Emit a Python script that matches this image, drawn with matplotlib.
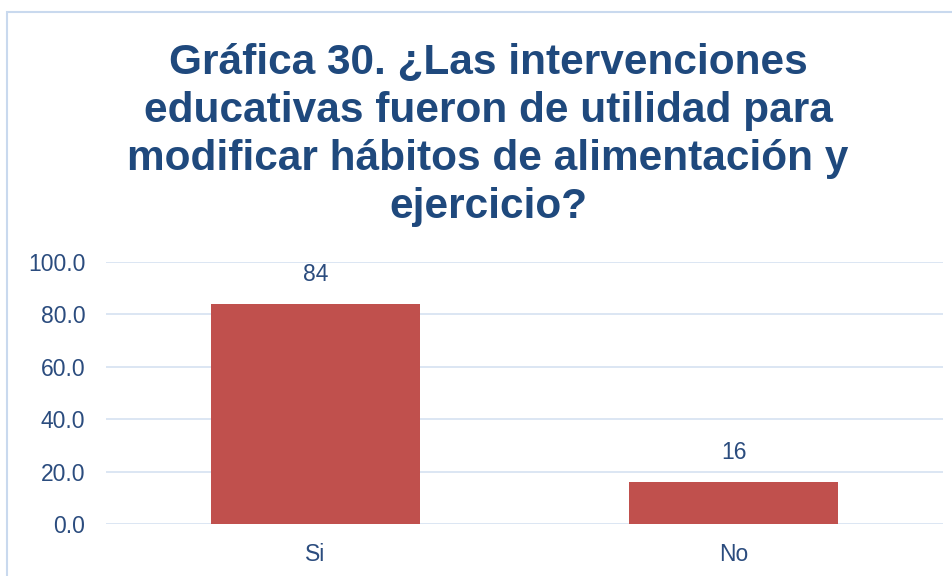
import matplotlib
matplotlib.use("Agg")
import matplotlib.pyplot as plt
from matplotlib.patches import Rectangle

categories = ["Si", "No"]
values = [84, 16]
value_labels = ["84", "16"]
yticks = [0, 20, 40, 60, 80, 100]
ytick_labels = ["0.0", "20.0", "40.0", "60.0", "80.0", "100.0"]
title = "Gráfica 30. ¿Las intervenciones\neducativas fueron de utilidad para\nmodificar hábitos de alimentación y\nejercicio?"

W, H = 952, 576
fig = plt.figure(figsize=(W / 100, H / 100), dpi=100)
plt.rcParams['font.family'] = ['Liberation Sans', 'DejaVu Sans']

text_color = "#2B4C7E"
title_color = "#1F497D"
grid_color = "#D9E4F2"

# outer border
fig.patches.append(Rectangle((7 / W, -0.2), 1.2, 1.2 - 12 / H,
                             transform=fig.transFigure, fill=False,
                             edgecolor="#C9D9EE", linewidth=1.5))

ax = fig.add_axes([106 / W, (H - 524) / H, (943 - 106) / W, (524 - 262) / H])
x = list(range(len(categories)))
ax.bar(x, values, width=0.5, color="#C0504D", zorder=3)
ax.set_xlim(-0.5, 1.5)
ax.set_ylim(0, 100)
ax.set_yticks(yticks)
ax.set_yticklabels(ytick_labels)
ax.set_xticks(x)
ax.set_xticklabels(categories)
ax.tick_params(axis='both', length=0, labelsize=16.5, colors=text_color)
ax.tick_params(axis='y', pad=15)
ax.tick_params(axis='x', pad=14)
for s in ax.spines.values():
    s.set_visible(False)
ax.grid(axis='y', color=grid_color, linewidth=1.3, zorder=0)
ax.set_axisbelow(True)
for xi, v, lab in zip(x, values, value_labels):
    ax.annotate(lab, (xi, v), xytext=(0, 13), textcoords='offset points',
                ha='center', va='bottom', fontsize=16.5, color=text_color)

fig.text(488 / W, 1 - 135 / H, title, ha='center', va='center', fontsize=30.5,
         fontweight='bold', color=title_color, linespacing=1.25)

fig.savefig("out.png", dpi=100, facecolor="white")
